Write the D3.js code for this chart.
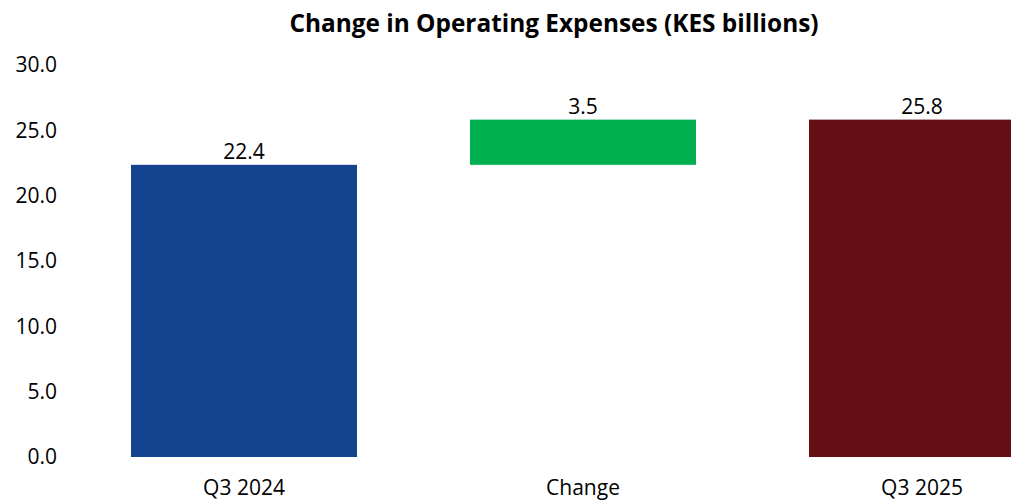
<!DOCTYPE html>
<html>
<head>
<meta charset="utf-8">
<script src="https://cdn.jsdelivr.net/npm/d3@7"></script>
<style>
  html, body { margin: 0; padding: 0; background: #fff; }
  svg { display: block; }
  text { font-family: "Open Sans", "Noto Sans", sans-serif; fill: #000; }
</style>
</head>
<body>
<svg id="chart" width="1011" height="500"></svg>
<script>
// Waterfall: opening value, change, closing value (KES billions)
const categories = ["Q3 2024", "Change", "Q3 2025"];
const barValues  = [22.36, 3.46, 25.82];
const barKinds   = ["total", "delta", "total"];
const barColors  = ["#14448E", "#00AF50", "#650F14"];
const yTicks     = [0, 5, 10, 15, 20, 25, 30];
const titleText  = "Change in Operating Expenses (KES billions)";

const svg = d3.select("#chart");

const x = d3.scaleBand()
  .domain(categories)
  .range([74.5, 1091.5])
  .paddingInner(1 / 3)
  .paddingOuter(1 / 6);

const y = d3.scaleLinear().domain([0, 30]).range([457, 65]);

// Build floating segments: totals start at zero, the delta sits on the previous total
let running = 0;
const bars = categories.map((c, i) => {
  let lo, hi;
  if (barKinds[i] === "total") { lo = 0; hi = barValues[i]; running = hi; }
  else { lo = running; hi = running + barValues[i]; running = hi; }
  return { cat: c, lo, hi, value: barValues[i], color: barColors[i] };
});

// Title
svg.append("text")
  .attr("x", 554)
  .attr("y", 32)
  .attr("text-anchor", "middle")
  .style("font-weight", "700")
  .style("font-size", "24.4px")
  .text(titleText);

// Y axis (labels only)
const yAxis = d3.axisLeft(y)
  .tickValues(yTicks)
  .tickFormat(d3.format(".1f"))
  .tickSize(0)
  .tickPadding(0);
const gy = svg.append("g").attr("transform", "translate(57,0)").call(yAxis);
gy.select(".domain").remove();
gy.selectAll("text")
  .style("font-family", "'Open Sans', sans-serif")
  .style("font-size", "21px")
  .attr("fill", "#000");

// Bars
svg.selectAll("rect.bar")
  .data(bars)
  .join("rect")
  .attr("class", "bar")
  .attr("x", d => x(d.cat))
  .attr("width", x.bandwidth())
  .attr("y", d => y(d.hi))
  .attr("height", d => y(d.lo) - y(d.hi))
  .attr("fill", d => d.color);

// Value labels
svg.selectAll("text.val")
  .data(bars)
  .join("text")
  .attr("class", "val")
  .attr("x", d => x(d.cat) + x.bandwidth() / 2)
  .attr("y", d => y(d.hi) - 6)
  .attr("text-anchor", "middle")
  .style("font-size", "21px")
  .text(d => d3.format(".1f")(d.value));

// X axis (labels only)
const xAxis = d3.axisBottom(x).tickSize(0).tickPadding(0);
const gx = svg.append("g").attr("transform", "translate(0,480)").call(xAxis);
gx.select(".domain").remove();
gx.selectAll("text")
  .style("font-family", "'Open Sans', sans-serif")
  .style("font-size", "21px")
  .attr("fill", "#000")
  .attr("dy", "0.71em");
</script>
</body>
</html>
